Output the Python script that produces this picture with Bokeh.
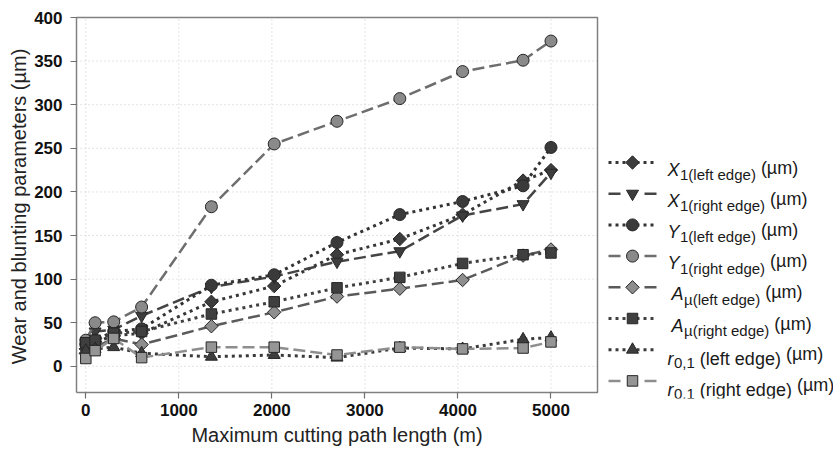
import numpy as np
from bokeh.plotting import figure
from bokeh.models import Range1d, FixedTicker, Label, Title
from bokeh.embed import file_html
from bokeh.resources import INLINE

# ---------------- data ----------------
path_length = [0, 100, 300, 600, 1350, 2025, 2700, 3375, 4050, 4700, 5000]
x1_left = [20, 28, 35, 38, 74, 92, 128, 146, 174, 213, 225]
x1_right = [22, 40, 42, 58, 91, 103, 120, 132, 173, 186, 222]
y1_left = [25, 30, 40, 43, 93, 105, 142, 174, 189, 207, 251]
y1_right = [30, 50, 51, 68, 183, 255, 281, 307, 338, 351, 373]
a_left = [15, 22, 32, 25, 46, 62, 80, 89, 99, 127, 134]
a_right = [27, 30, 38, 40, 60, 74, 90, 102, 118, 128, 130]
r01_left = [18, 20, 22, 15, 11, 13, 10, 21, 20, 31, 33]
r01_right = [9, 18, 32, 10, 22, 22, 13, 22, 20, 21, 28]

x_ticks = [0, 1000, 2000, 3000, 4000, 5000]
y_ticks = [0, 50, 100, 150, 200, 250, 300, 350, 400]

leg_main = ["X", "X", "Y", "Y", "A", "A", "r", "r"]
leg_sub = ["1(left edge)", "1(right edge)", "1(left edge)", "1(right edge)",
           "\u00b5(left edge)", "\u00b5(right edge)", "0,1", "0,1"]
leg_tail = ["", "", "", "", "", "", "(left edge)", "(right edge)"]
leg_unit = "(\u00b5m)"

x_label = "Maximum cutting path length (m)"
y_label = "Wear and blunting parameters (\u00b5m)"

FONT = "Liberation Sans"
DOT = "3 4"
DASH = "12 5"

# series styles: (values, marker, angle, size, fill, line color, dash, width)
series = [
    (x1_left, "square", np.pi / 4, 9.5, "#3d3d3d", "#363636", DOT, 3),
    (x1_right, "inverted_triangle", 0, 12, "#3d3d3d", "#444444", DASH, 2.5),
    (y1_left, "circle", 0, 12, "#3a3a3a", "#333333", DOT, 3),
    (y1_right, "circle", 0, 12, "#8a8a8a", "#6e6e6e", DASH, 2.5),
    (a_left, "square", np.pi / 4, 9.5, "#8e8e8e", "#5a5a5a", DASH, 2.5),
    (a_right, "square", 0, 10.5, "#3f3f3f", "#404040", DOT, 3),
    (r01_left, "triangle", 0, 12, "#3d3d3d", "#3a3a3a", DOT, 3),
    (r01_right, "square", 0, 10.5, "#959595", "#8e8e8e", DASH, 2.5),
]

# ---------------- geometry (plot box -100..5500 x -30..400) ----------------
BOX_X = (-100, 5500)
BOX_Y = (-30, 400)
FR_L, FR_R, FR_T, FR_B = 73, 833, 14, 398      # frame edges on the canvas
BOX_L, BOX_R, BOX_T, BOX_B = 76, 597, 17, 392  # box edges on the canvas
sx = (BOX_R - BOX_L) / (BOX_X[1] - BOX_X[0])
sy = (BOX_B - BOX_T) / (BOX_Y[1] - BOX_Y[0])
x_start = BOX_X[0] - (BOX_L - FR_L) / sx
x_end = x_start + (FR_R - FR_L) / sx
y_end = BOX_Y[1] + (BOX_T - FR_T) / sy
y_start = y_end - (FR_B - FR_T) / sy


def dx(px):
    return x_start + (px - FR_L) / sx


def dy(py):
    return y_end - (py - FR_T) / sy


W = {" ": 278, "(": 333, ")": 333, ",": 278, "0": 556, "1": 556,
     "a": 556, "b": 556, "c": 500, "d": 556, "e": 556, "f": 278, "g": 556,
     "h": 556, "i": 222, "l": 222, "m": 833, "n": 556, "r": 333, "s": 500,
     "t": 278, "u": 556, "x": 500, "p": 556, "\u00b5": 576,
     "X": 667, "Y": 667, "A": 667, "M": 833}


def tw(s, size):
    return sum(W.get(c, 556) for c in s) * size / 1000.0


p = figure(width=833, height=454,
           x_range=Range1d(x_start, x_end), y_range=Range1d(y_start, y_end),
           output_backend="svg", toolbar_location=None,
           min_border_left=FR_L, min_border_right=0,
           min_border_top=FR_T, min_border_bottom=454 - FR_B)
p.background_fill_color = "white"
p.border_fill_color = "white"
p.outline_line_color = None
p.grid.visible = False

p.xaxis.ticker = FixedTicker(ticks=x_ticks)
p.yaxis.ticker = FixedTicker(ticks=y_ticks)
for ax in (p.xaxis, p.yaxis):
    ax.axis_line_color = None
    ax.major_tick_line_color = "#707070"
    ax.major_tick_line_width = 1.2
    ax.minor_tick_line_color = None
    ax.major_label_text_font = FONT
    ax.major_label_text_font_style = "bold"
    ax.major_label_text_font_size = "17px"
    ax.major_label_text_color = "#111111"
    ax.axis_label_text_font = FONT
    ax.axis_label_text_font_style = "normal"
    ax.axis_label_text_font_size = "20px"
    ax.axis_label_text_color = "#222222"
p.xaxis.major_tick_in = FR_B - BOX_B
p.xaxis.major_tick_out = 0
p.xaxis.major_label_standoff = 5
p.yaxis.major_tick_in = BOX_L - FR_L
p.yaxis.major_tick_out = 3
p.yaxis.major_label_standoff = 8
p.yaxis.axis_label_standoff = 1
p.yaxis.axis_label = y_label

# x-axis title centred under the plot box
box_center = (BOX_L + BOX_R) / 2.0
xt = Title(text=x_label, align="left",
           offset=box_center - tw(x_label, 20) / 2.0 - FR_L,
           text_font=FONT, text_font_size="20px", text_font_style="normal",
           text_color="#222222", standoff=7)
p.add_layout(xt, "below")

# dotted grid inside the box
p.segment(x0=x_ticks, x1=x_ticks, y0=[BOX_Y[0]] * len(x_ticks), y1=[BOX_Y[1]] * len(x_ticks),
          line_color="#c8c8c8", line_width=1, line_dash="1 3")
p.segment(x0=[BOX_X[0]] * len(y_ticks), x1=[BOX_X[1]] * len(y_ticks), y0=y_ticks, y1=y_ticks,
          line_color="#c8c8c8", line_width=1, line_dash="1 3")

# box
p.line([BOX_X[0], BOX_X[1], BOX_X[1], BOX_X[0], BOX_X[0]],
       [BOX_Y[0], BOX_Y[0], BOX_Y[1], BOX_Y[1], BOX_Y[0]],
       line_color="#808080", line_width=1.5)

for vals, mk, ang, sz, fill, lc, dash, lw in series:
    p.line(path_length, vals, line_color=lc, line_width=lw, line_dash=dash)
    p.scatter(path_length, vals, marker=mk, angle=ang, size=sz,
              fill_color=fill, line_color="#262626", line_width=1)


# ---------------- legend ----------------
def add_label(px, py, text, size, style="normal"):
    p.add_layout(Label(x=dx(px), y=dy(py), text=text, text_font=FONT,
                       text_font_size=size, text_font_style=style,
                       text_baseline="alphabetic", text_align="left",
                       text_color="#1a1a1a"))


row0, row_step = 162, 31.2
for i, (vals, mk, ang, sz, fill, lc, dash, lw) in enumerate(series):
    m = row0 + row_step * i
    if dash == DOT:
        p.line([dx(608), dx(656)], [dy(m), dy(m)], line_color=lc, line_width=lw, line_dash=dash)
    else:
        p.line([dx(608), dx(620)], [dy(m), dy(m)], line_color=lc, line_width=lw)
        p.line([dx(644), dx(656)], [dy(m), dy(m)], line_color=lc, line_width=lw)
    p.scatter([dx(632)], [dy(m)], marker=mk, angle=ang, size=sz,
              fill_color=fill, line_color="#262626", line_width=1)

    is_r = leg_main[i] == "r"
    x = 671 if leg_main[i] == "A" else 667
    base_main = m + (9 if is_r else 7)
    base_sub = m + (13 if is_r else 12)
    base_unit = m + (4 if is_r else 5)
    add_label(x, base_main, leg_main[i], "18px", "italic")
    x += tw(leg_main[i], 18) + 0.5
    add_label(x, base_sub, leg_sub[i], "15px")
    x += tw(leg_sub[i], 15)
    if leg_tail[i]:
        x += tw(" ", 18)
        add_label(x, base_main, leg_tail[i], "18px")
        x += tw(leg_tail[i], 18)
    x += 5
    add_label(x, base_unit, leg_unit, "18px")

open("out.html", "w").write(file_html(p, INLINE))
